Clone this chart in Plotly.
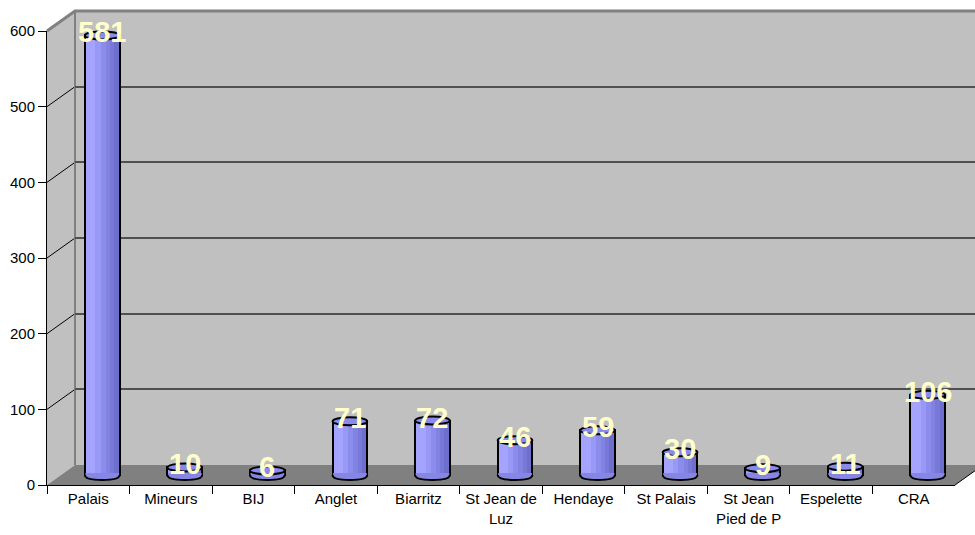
import plotly.graph_objects as go

# ---- data ----
categories = ["Palais", "Mineurs", "BIJ", "Anglet", "Biarritz", "St Jean de<br>Luz",
              "Hendaye", "St Palais", "St Jean<br>Pied de P", "Espelette", "CRA"]
values = [581, 10, 6, 71, 72, 46, 59, 30, 9, 11, 106]
y_ticks = [0, 100, 200, 300, 400, 500, 600]

W, H = 975, 535
FONT = "Liberation Sans, Arial, sans-serif"

def X(p):
    return p / W

def Y(p):
    return 1 - p / H

# pixel geometry of the pseudo-3D frame
FX0, FX1, FY0, FY1 = 47, 955, 485, 31      # front plane (x left/right, y for 0 / 600)
DX, DY = 28, -20                           # depth offset to back wall
YMAX = 600
scale = (FY0 - FY1) / YMAX

fig = go.Figure()

n = len(categories)
xr = [-0.5, n - 0.5]

# cylinder shading stripes (style only)
bar_w = 0.42
stripes = [("#a4a4ff", 0.00, 0.30), ("#9898f6", 0.30, 0.45), ("#8c8cec", 0.45, 0.60),
           ("#8282e2", 0.60, 0.72), ("#7878d8", 0.72, 0.84), ("#6e6ecc", 0.84, 1.00)]
for col, a, b in stripes:
    fig.add_trace(go.Bar(x=list(range(n)), y=values, xaxis="x3", yaxis="y3",
                         width=bar_w * (b - a), offset=-bar_w / 2 + bar_w * a,
                         marker=dict(color=col, line=dict(width=0)),
                         hoverinfo="skip", showlegend=False))
# outline
fig.add_trace(go.Bar(x=list(range(n)), y=values, xaxis="x3", yaxis="y3",
                     width=bar_w, offset=-bar_w / 2,
                     marker=dict(color="rgba(0,0,0,0)", line=dict(width=2, color="black")),
                     hoverinfo="skip", showlegend=False))

# invisible trace on front axes so the categories show
fig.add_trace(go.Scatter(x=categories, y=[0] * n, xaxis="x", yaxis="y",
                         mode="markers", marker=dict(opacity=0), hoverinfo="skip",
                         showlegend=False))
# invisible on back axes
fig.add_trace(go.Scatter(x=[0], y=[0], xaxis="x2", yaxis="y2", mode="markers",
                         marker=dict(opacity=0), hoverinfo="skip", showlegend=False))

shapes = []
# side wall
shapes.append(dict(type="path", xref="paper", yref="paper", layer="below",
                   path=f"M {X(FX0)},{Y(FY1)} L {X(FX0+DX)},{Y(FY1+DY)} L {X(FX0+DX)},{Y(FY0+DY)} L {X(FX0)},{Y(FY0)} Z",
                   fillcolor="#c0c0c0", line=dict(width=0)))
# back wall
shapes.append(dict(type="rect", xref="paper", yref="paper", layer="below",
                   x0=X(FX0 + DX), x1=1.0, y0=Y(FY0 + DY), y1=Y(FY1 + DY),
                   fillcolor="#c0c0c0", line=dict(width=0)))
# floor
shapes.append(dict(type="path", xref="paper", yref="paper", layer="below",
                   path=f"M {X(FX0)},{Y(FY0)} L {X(FX1)},{Y(FY0)} L {X(FX1+DX)},{Y(FY0+DY)} L {X(FX0+DX)},{Y(FY0+DY)} Z",
                   fillcolor="#808080", line=dict(width=0)))
# side-wall diagonal gridlines
for v in y_ticks[1:-1]:
    yf = FY0 - v * scale
    shapes.append(dict(type="line", xref="paper", yref="paper", layer="below",
                       x0=X(FX0), y0=Y(yf), x1=X(FX0 + DX), y1=Y(yf + DY),
                       line=dict(color="black", width=1)))
# back wall left edge, top edges
shapes.append(dict(type="line", xref="paper", yref="paper", layer="below",
                   x0=X(FX0 + DX), x1=X(FX0 + DX), y0=Y(FY0 + DY), y1=Y(FY1 + DY),
                   line=dict(color="#808080", width=2)))
shapes.append(dict(type="path", xref="paper", yref="paper", layer="below",
                   path=f"M {X(FX0)},{Y(FY1)} L {X(FX0+DX)},{Y(FY1+DY)} L 1,{Y(FY1+DY)}",
                   line=dict(color="#808080", width=3)))
# floor right edge
shapes.append(dict(type="line", xref="paper", yref="paper", layer="above",
                   x0=X(FX1), y0=Y(FY0), x1=X(FX1 + DX), y1=Y(FY0 + DY),
                   line=dict(color="black", width=1)))

# cylinder ellipses
eh = 8 / scale           # ellipse height in data units
cover = 2.0 / scale      # hides the flat bottom edge of the bar outline
for i, v in enumerate(values):
    xl, xc, xrr = i - bar_w / 2 + 0.006, i, i + bar_w / 2 - 0.006
    shapes.append(dict(type="path", xref="x3", yref="y3", layer="above",
                       path=(f"M {xl},{cover} L {xl},{0} "
                             f"Q {xl},{-eh * 0.62} {xc},{-eh * 0.62} "
                             f"Q {xrr},{-eh * 0.62} {xrr},{0} L {xrr},{cover} Z"),
                       fillcolor="#8686e4", line=dict(width=0)))
    shapes.append(dict(type="path", xref="x3", yref="y3", layer="above",
                       path=(f"M {i - bar_w / 2},{0} "
                             f"Q {i - bar_w / 2},{-eh * 0.62} {xc},{-eh * 0.62} "
                             f"Q {i + bar_w / 2},{-eh * 0.62} {i + bar_w / 2},{0}"),
                       line=dict(color="black", width=2)))
    shapes.append(dict(type="circle", xref="x3", yref="y3", layer="above",
                       x0=i - bar_w / 2, x1=i + bar_w / 2, y0=v - eh / 2, y1=v + eh / 2,
                       fillcolor="#8a8aec", line=dict(color="black", width=2)))

annotations = []
for i, v in enumerate(values):
    annotations.append(dict(x=i, y=v, xref="x3", yref="y3", text="<b>" + str(v) + "</b>",
                            showarrow=False, yshift=3,
                            font=dict(family=FONT, size=29, color="#ffffcc"),
                            xanchor="center", yanchor="middle"))

y3_lo = -20
fig.update_layout(
    width=W, height=H, autosize=False,
    margin=dict(l=0, r=0, t=0, b=0, pad=0),
    paper_bgcolor="white", plot_bgcolor="rgba(0,0,0,0)",
    barmode="overlay", bargap=0,
    font=dict(family=FONT, size=15, color="black"),
    shapes=shapes, annotations=annotations,
    xaxis=dict(domain=[X(FX0), X(FX1)], type="category", range=xr, automargin=False,
               tickson="boundaries", ticks="outside", ticklen=8, tickcolor="black",
               showline=True, linecolor="black", linewidth=1, showgrid=False,
               tickfont=dict(size=15), tickangle=0, fixedrange=True),
    yaxis=dict(domain=[Y(FY0), Y(FY1)], range=[0, YMAX], tickvals=y_ticks, automargin=False,
               ticks="outside", ticklen=8, tickcolor="black", showline=True,
               linecolor="black", linewidth=1, showgrid=False, zeroline=False,
               tickfont=dict(size=15), fixedrange=True),
    xaxis2=dict(domain=[X(FX0 + DX), 1.0], range=[0, 1], visible=False, fixedrange=True,
                anchor="y2", automargin=False),
    yaxis2=dict(domain=[Y(FY0 + DY), Y(FY1 + DY)], range=[0, YMAX], anchor="x2",
                tickvals=y_ticks[1:-1], showticklabels=False, ticks="", automargin=False,
                showgrid=True, gridcolor="#505050", gridwidth=1.5, zeroline=False,
                showline=False, fixedrange=True),
    xaxis3=dict(domain=[X(FX0 + DX / 2), X(FX1 + DX / 2)], range=xr, visible=False,
                anchor="y3", fixedrange=True, automargin=False),
    yaxis3=dict(domain=[Y(FY0 + DY / 2 - y3_lo * scale), Y(FY1 + DY / 2)],
                range=[y3_lo, YMAX], visible=False,
                anchor="x3", fixedrange=True, automargin=False),
)

fig.write_html("out.html")
